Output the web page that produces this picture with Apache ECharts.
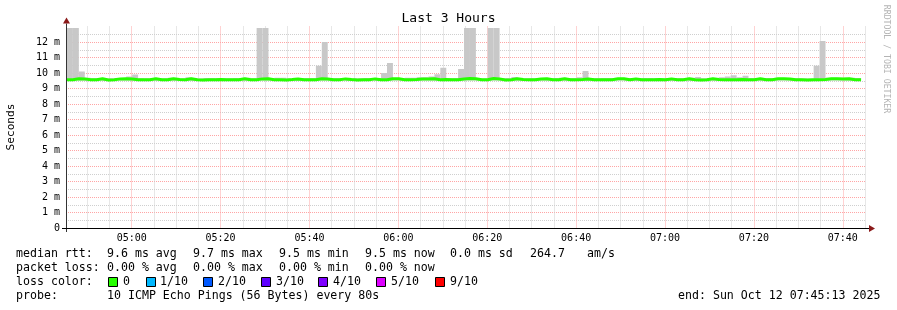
<!DOCTYPE html>
<html><head><meta charset="utf-8">
<script src="https://cdn.jsdelivr.net/npm/echarts@6/dist/echarts.min.js"></script>
<style>html,body{margin:0;padding:0;background:#fff}#c{width:897px;height:310px}</style>
</head><body><div id="c"></div>
<script>
// ---- data (times in minutes since midnight, values in ms) ----
const axisStart = 285.2167;      // 04:45:13
const axisEnd = 465.2167;        // 07:45:13
const firstColumnStart = 285.44; // first 80 s RRD step
const stepMinutes = 80 / 60;

const xTickValues = [300, 320, 340, 360, 380, 400, 420, 440, 460];
const xTickLabels = ['05:00', '05:20', '05:40', '06:00', '06:20', '06:40', '07:00', '07:20', '07:40'];
const yTickValues = [0, 1, 2, 3, 4, 5, 6, 7, 8, 9, 10, 11, 12];
const yTickLabels = ['0', '1 m', '2 m', '3 m', '4 m', '5 m', '6 m', '7 m', '8 m', '9 m', '10 m', '11 m', '12 m'];

const median = [
9.57,9.63,9.62,9.56,9.56,9.63,9.55,9.56,9.62,9.63,
9.62,9.57,9.56,9.57,9.63,9.57,9.56,9.63,9.58,9.57,
9.63,9.56,9.55,9.56,9.57,9.58,9.56,9.56,9.57,9.63,
9.57,9.56,9.62,9.63,9.57,9.56,9.55,9.58,9.62,9.57,
9.56,9.57,9.63,9.62,9.57,9.56,9.62,9.58,9.55,9.57,
9.56,9.62,9.57,9.56,9.63,9.63,9.57,9.56,9.58,9.62,
9.62,9.63,9.57,9.58,9.56,9.57,9.62,9.64,9.63,9.57,
9.56,9.64,9.62,9.55,9.56,9.63,9.58,9.56,9.57,9.62,
9.63,9.57,9.56,9.63,9.57,9.56,9.58,9.62,9.57,9.56,
9.57,9.56,9.63,9.63,9.57,9.62,9.56,9.57,9.56,9.58,
9.57,9.62,9.56,9.57,9.63,9.56,9.55,9.57,9.63,9.58,
9.56,9.57,9.56,9.58,9.57,9.56,9.63,9.57,9.56,9.63,
9.63,9.62,9.57,9.56,9.55,9.56,9.57,9.58,9.63,9.63,
9.62,9.63,9.57,9.56
];
const smokeHigh = [
12.9,12.9,10.1,9.7,9.66,9.67,9.65,9.66,9.67,9.66,
9.78,9.9,9.66,9.65,9.67,9.66,9.65,9.7,9.66,9.65,
9.72,9.66,9.65,9.68,9.68,9.66,9.65,9.66,9.67,9.68,
9.7,9.66,12.9,12.9,9.66,9.7,9.7,9.65,9.66,9.67,
9.66,9.67,10.47,12.0,9.68,9.66,9.67,9.65,9.66,9.66,
9.67,9.68,9.68,10.0,10.65,9.67,9.66,9.7,9.7,9.72,
9.73,9.78,9.92,10.34,9.66,9.67,10.26,12.9,12.9,9.66,
9.65,12.9,12.9,9.66,9.67,9.74,9.66,9.65,9.66,9.67,
9.68,9.68,9.68,9.69,9.68,9.68,9.72,10.13,9.67,9.66,
9.68,9.68,9.68,9.68,9.66,9.67,9.65,9.68,9.68,9.66,
9.65,9.68,9.68,9.66,9.67,9.7,9.75,9.66,9.67,9.65,
9.72,9.78,9.86,9.72,9.82,9.68,9.68,9.68,9.68,9.66,
9.67,9.66,9.65,9.66,9.65,9.65,10.47,12.06,9.7,9.7,
9.7,9.7,9.7,9.68
];
const smokeLow = [
9.5,9.52,9.52,9.49,9.5,9.52,9.48,9.49,9.51,9.52,
9.52,9.5,9.49,9.5,9.52,9.5,9.49,9.52,9.5,9.49,
9.52,9.48,9.48,9.49,9.5,9.5,9.49,9.48,9.5,9.52,
9.5,9.49,9.51,9.52,9.5,9.49,9.48,9.5,9.52,9.5,
9.49,9.5,9.52,9.51,9.5,9.49,9.51,9.5,9.48,9.5,
9.49,9.52,9.5,9.49,9.52,9.52,9.5,9.49,9.5,9.51,
9.51,9.52,9.5,9.5,9.49,9.5,9.51,9.52,9.52,9.5,
9.49,9.52,9.52,9.48,9.49,9.52,9.5,9.49,9.5,9.51,
9.52,9.5,9.49,9.52,9.5,9.49,9.5,9.52,9.5,9.48,
9.5,9.49,9.52,9.52,9.5,9.51,9.49,9.5,9.48,9.5,
9.5,9.51,9.48,9.5,9.52,9.49,9.48,9.5,9.52,9.5,
9.49,9.5,9.49,9.5,9.5,9.48,9.52,9.5,9.49,9.52,
9.52,9.51,9.5,9.48,9.48,9.49,9.5,9.5,9.52,9.52,
9.51,9.52,9.5,9.49
];

const lossLabels = ['0', '1/10', '2/10', '3/10', '4/10', '5/10', '9/10'];
const lossColors = ['#26ff00', '#00b8ff', '#0059ff', '#5e00ff', '#7e00ff', '#dd00ff', '#ff0000'];

const statLines = [
  [[16, 'median rtt:'], [107, '9.6 ms avg'], [193, '9.7 ms max'], [279, '9.5 ms min'], [365, '9.5 ms now'], [450, '0.0 ms sd'], [530, '264.7'], [587, 'am/s']],
  [[16, 'packet loss:'], [107, '0.00 % avg'], [193, '0.00 % max'], [279, '0.00 % min'], [365, '0.00 % now']],
  [[16, 'loss color:']],
  [[16, 'probe:'], [107, '10 ICMP Echo Pings (56 Bytes) every 80s'], [678, 'end: Sun Oct 12 07:45:13 2025']]
];

// ---- build ----
const FONT = 'DejaVu Sans Mono';
const smokeData = [];
const medianData = [];
for (let i = 0; i < median.length; i++) {
  const s = firstColumnStart + i * stepMinutes;
  const e = s + stepMinutes;
  smokeData.push([s, e, smokeLow[i], smokeHigh[i]]);
  medianData.push([s, median[i]]);
}
medianData.push([firstColumnStart + median.length * stepMinutes, median[median.length - 1]]);

function near(a, b) { return Math.abs(a - b) < 1e-6; }

const chart = echarts.init(document.getElementById('c'), null, {renderer: 'canvas'});
const gridLine = {color: '#ffa5a5', type: [1, 1], width: 1};
const minorLine = {color: '#cfcfcf', type: [1, 1], width: 1};

const graphics = [];
const lineY = [254, 268, 282, 296];
statLines.forEach((line, li) => {
  line.forEach(([x, t]) => {
    graphics.push({type: 'text', x: x, y: lineY[li], silent: true,
      style: {text: t, fontFamily: FONT, fontSize: 11.6, fill: '#000', verticalAlign: 'middle'}});
  });
});
const boxX = [108, 146, 203, 261, 318, 376, 435];
const labX = [123, 160, 218, 276, 333, 391, 450];
lossLabels.forEach((l, i) => {
  graphics.push({type: 'rect', x: boxX[i] + 0.5, y: 277.5, shape: {x: 0, y: 0, width: 9, height: 9},
    style: {fill: lossColors[i], stroke: '#000', lineWidth: 1}, silent: true});
  graphics.push({type: 'text', x: labX[i], y: 282, silent: true,
    style: {text: l, fontFamily: FONT, fontSize: 11.6, fill: '#000', verticalAlign: 'middle'}});
});
graphics.push({type: 'text', x: 11, y: 127, rotation: Math.PI / 2, silent: true,
  style: {text: 'Seconds', fontFamily: FONT, fontSize: 11.2, fill: '#000', align: 'center', verticalAlign: 'middle'}});
graphics.push({type: 'text', x: 886, y: 59, rotation: -Math.PI / 2, silent: true,
  style: {text: 'RRDTOOL / TOBI OETIKER', fontFamily: FONT, fontSize: 8.2, fill: '#b4b4b4', align: 'center', verticalAlign: 'middle'}});

chart.setOption({
  animation: false,
  backgroundColor: '#fff',
  title: {text: 'Last 3 Hours', left: 'center', top: 12, padding: 0,
    textStyle: {fontFamily: FONT, fontSize: 13, fontWeight: 'normal', color: '#000'}},
  grid: {left: 66, right: 31, top: 26.5, bottom: 82},
  xAxis: {
    type: 'value', min: axisStart, max: axisEnd, minInterval: 20, maxInterval: 20, splitNumber: 9,
    axisLine: {show: true, lineStyle: {color: '#000', width: 1}},
    axisTick: {show: false},
    axisLabel: {fontFamily: FONT, fontSize: 10, color: '#000', margin: 5, showMinLabel: false, showMaxLabel: false,
      formatter: v => { const k = xTickValues.findIndex(t => near(t, v)); return k >= 0 ? xTickLabels[k] : ''; }},
    splitLine: {show: true, showMinLine: false, showMaxLine: false, lineStyle: gridLine},
    minorTick: {show: false, splitNumber: 4},
    minorSplitLine: {show: true, lineStyle: minorLine}
  },
  yAxis: {
    type: 'value', min: 0, max: 13, interval: 1,
    axisLine: {show: true, lineStyle: {color: '#333', width: 1}},
    axisTick: {show: false},
    axisLabel: {fontFamily: FONT, fontSize: 10, color: '#000', margin: 6, showMaxLabel: false,
      formatter: v => { const k = yTickValues.findIndex(t => near(t, v)); return k >= 0 ? yTickLabels[k] : ''; }},
    splitLine: {show: true, showMinLine: false, showMaxLine: false, lineStyle: gridLine},
    minorTick: {show: false, splitNumber: 2},
    minorSplitLine: {show: true, lineStyle: minorLine}
  },
  series: [
    {
      type: 'custom', clip: true, silent: true,
      data: smokeData,
      encode: {x: [0, 1], y: [2, 3]},
      renderItem: (params, api) => {
        const p0 = api.coord([api.value(0), api.value(3)]);
        const p1 = api.coord([api.value(1), api.value(2)]);
        return {type: 'rect', shape: {x: p0[0], y: p0[1], width: p1[0] - p0[0], height: p1[1] - p0[1]},
          style: {fill: '#c8c8c8'}};
      }
    },
    {
      type: 'line', step: 'end', data: medianData, symbol: 'none', silent: true,
      lineStyle: {color: '#26ff00', width: 3}, z: 5
    }
  ],
  graphic: graphics
});

// axis arrows (decoration) placed from the axis scale
const pEnd = chart.convertToPixel({gridIndex: 0}, [axisEnd, 0]);
const pTop = chart.convertToPixel({gridIndex: 0}, [axisStart, 13]);
const pO = chart.convertToPixel({gridIndex: 0}, [axisStart, 0]);
const extra = [
  {type: 'line', shape: {x1: pEnd[0], y1: pEnd[1] + 0.5, x2: pEnd[0] + 3, y2: pEnd[1] + 0.5}, style: {stroke: '#000', lineWidth: 1}, silent: true},
  {type: 'line', shape: {x1: pO[0] - 4, y1: pO[1] + 0.5, x2: pO[0], y2: pO[1] + 0.5}, style: {stroke: '#000', lineWidth: 1}, silent: true},
  {type: 'line', shape: {x1: pTop[0] + 0.5, y1: pTop[1], x2: pTop[0] + 0.5, y2: pTop[1] - 3}, style: {stroke: '#333', lineWidth: 1}, silent: true},
  {type: 'line', shape: {x1: pO[0] + 0.5, y1: pO[1], x2: pO[0] + 0.5, y2: pO[1] + 4}, style: {stroke: '#333', lineWidth: 1}, silent: true},
  {type: 'polygon', shape: {points: [[pEnd[0] + 3, pEnd[1] - 3], [pEnd[0] + 9, pEnd[1] + 0.5], [pEnd[0] + 3, pEnd[1] + 4]]}, style: {fill: '#8b1a1a'}, silent: true},
  {type: 'polygon', shape: {points: [[pTop[0] - 3, pTop[1] - 3], [pTop[0] + 0.5, pTop[1] - 9], [pTop[0] + 4, pTop[1] - 3]]}, style: {fill: '#8b1a1a'}, silent: true}
];
chart.setOption({graphic: graphics.concat(extra)});
</script>
</body></html>
